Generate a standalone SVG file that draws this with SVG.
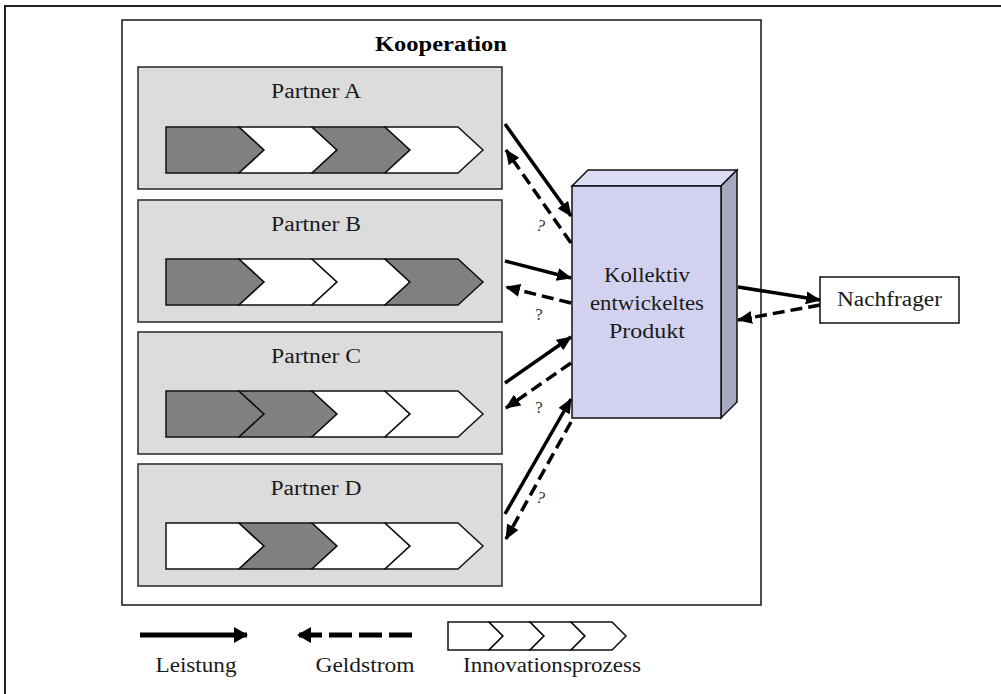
<svg xmlns="http://www.w3.org/2000/svg" width="1001" height="694" viewBox="0 0 1001 694">
  <style>
    .t { font-family: "Liberation Serif", "Times New Roman", serif; fill: #1a1a1a; text-anchor: middle; }
    .lbl { font-size: 20px; }
    .q { font-size: 17px; fill: #333; }
    .title { font-size: 20px; font-weight: bold; fill: #000; }
    .partner { fill: #dcdcdc; stroke: #333; stroke-width: 1.6; }
    .dk { fill: #808080; stroke: #111; stroke-width: 1.5; stroke-linejoin: miter; }
    .wt { fill: #ffffff; stroke: #111; stroke-width: 1.5; stroke-linejoin: miter; }
    .solid { fill: none; stroke: #000; stroke-width: 3.5; }
    .dash { fill: none; stroke: #000; stroke-width: 3.5; stroke-dasharray: 12 6; }
  </style>
  <defs>
    <marker id="ah" markerUnits="userSpaceOnUse" markerWidth="15" markerHeight="13" refX="14" refY="6.5" orient="auto">
      <path d="M0,0 L15,6.5 L0,13 Z" fill="#000"/>
    </marker>
    <marker id="ahL" markerUnits="userSpaceOnUse" markerWidth="14" markerHeight="16" refX="13" refY="8" orient="auto">
      <path d="M0,0 L14,8 L0,16 Z" fill="#000"/>
    </marker>
    <!-- process chevron pieces: first one flat at the left, the others notched -->
    <path id="c0" d="M0,0 H73 L98,23 L73,46 H0 Z"/>
    <path id="c1" d="M0,0 H73 L98,23 L73,46 H0 L25,23 Z"/>
    <path id="s0" d="M0,0 H41 L55,14 L41,28 H0 Z"/>
    <path id="s1" d="M0,0 H41 L55,14 L41,28 H0 L14,14 Z"/>
  </defs>

  <!-- page frame -->
  <path d="M5,694 V6 H1001" fill="none" stroke="#222" stroke-width="2"/>

  <!-- cooperation frame -->
  <g id="kooperation">
    <rect x="122" y="20" width="639" height="585" fill="#fff" stroke="#222" stroke-width="1.6"/>
    <text class="t title" x="441" y="51" textLength="132" lengthAdjust="spacingAndGlyphs">Kooperation</text>
  </g>

  <g id="partner-a">
    <rect class="partner" x="138" y="67" width="364" height="122"/>
    <text class="t lbl" x="316" y="98" textLength="90" lengthAdjust="spacingAndGlyphs">Partner A</text>
    <use href="#c0" class="dk" x="166" y="127"/>
    <use href="#c1" class="wt" x="239" y="127"/>
    <use href="#c1" class="dk" x="312" y="127"/>
    <use href="#c1" class="wt" x="385" y="127"/>
  </g>

  <g id="partner-b">
    <rect class="partner" x="138" y="200" width="364" height="122"/>
    <text class="t lbl" x="316" y="231" textLength="90" lengthAdjust="spacingAndGlyphs">Partner B</text>
    <use href="#c0" class="dk" x="166" y="259"/>
    <use href="#c1" class="wt" x="239" y="259"/>
    <use href="#c1" class="wt" x="312" y="259"/>
    <use href="#c1" class="dk" x="385" y="259"/>
  </g>

  <g id="partner-c">
    <rect class="partner" x="138" y="332" width="364" height="122"/>
    <text class="t lbl" x="316" y="363" textLength="90" lengthAdjust="spacingAndGlyphs">Partner C</text>
    <use href="#c0" class="dk" x="166" y="391"/>
    <use href="#c1" class="dk" x="239" y="391"/>
    <use href="#c1" class="wt" x="312" y="391"/>
    <use href="#c1" class="wt" x="385" y="391"/>
  </g>

  <g id="partner-d">
    <rect class="partner" x="138" y="464" width="364" height="122"/>
    <text class="t lbl" x="316" y="495" textLength="91" lengthAdjust="spacingAndGlyphs">Partner D</text>
    <use href="#c0" class="wt" x="166" y="523"/>
    <use href="#c1" class="dk" x="239" y="523"/>
    <use href="#c1" class="wt" x="312" y="523"/>
    <use href="#c1" class="wt" x="385" y="523"/>
  </g>

  <!-- jointly developed product, drawn as a block -->
  <g id="produkt">
    <polygon points="572,186 588,170 737,170 721,186" fill="#dcdcf4" stroke="#111" stroke-width="1.5"/>
    <polygon points="721,186 737,170 737,402 721,418" fill="#a8a8c0" stroke="#111" stroke-width="1.5"/>
    <rect x="572" y="186" width="149" height="232" fill="#d2d2f0" stroke="#111" stroke-width="1.5"/>
    <text class="t lbl" x="647" y="282" textLength="86" lengthAdjust="spacingAndGlyphs">Kollektiv</text>
    <text class="t lbl" x="647" y="310" textLength="114" lengthAdjust="spacingAndGlyphs">entwickeltes</text>
    <text class="t lbl" x="647" y="338" textLength="76" lengthAdjust="spacingAndGlyphs">Produkt</text>
  </g>

  <g id="nachfrager">
    <rect x="820" y="277" width="139" height="46" fill="#fff" stroke="#111" stroke-width="1.5"/>
    <text class="t lbl" x="889.5" y="306" textLength="105" lengthAdjust="spacingAndGlyphs">Nachfrager</text>
  </g>

  <g id="connectors">
    <path class="solid" d="M505,124 L571,216" marker-end="url(#ah)"/>
    <path class="dash" d="M571,243 L506,150" marker-end="url(#ah)"/>
    <path class="solid" d="M505,261 L571,278" marker-end="url(#ah)"/>
    <path class="dash" d="M571,303 L506,287" marker-end="url(#ah)"/>
    <path class="solid" d="M505,383 L571,337" marker-end="url(#ah)"/>
    <path class="dash" d="M571,363 L506,408" marker-end="url(#ah)"/>
    <path class="solid" d="M505,514 L571,399" marker-end="url(#ah)"/>
    <path class="dash" d="M571,422 L506,539" marker-end="url(#ah)"/>
    <path class="solid" d="M738,287 L820,300" marker-end="url(#ah)"/>
    <path class="dash" d="M820,305 L738,320" marker-end="url(#ah)"/>
    <text class="t q" transform="translate(539,231) rotate(20)">?</text>
    <text class="t q" x="539" y="320">?</text>
    <text class="t q" x="539" y="413">?</text>
    <text class="t q" transform="translate(539,503) rotate(20)">?</text>
  </g>

  <!-- legend -->
  <g id="legende">
    <path d="M140,635 L247,635" fill="none" stroke="#000" stroke-width="5" marker-end="url(#ahL)"/>
    <path d="M412,635 L298,635" fill="none" stroke="#000" stroke-width="5" stroke-dasharray="23 7" marker-end="url(#ahL)"/>
    <use href="#s0" class="wt" x="448" y="622"/>
    <use href="#s1" class="wt" x="489" y="622"/>
    <use href="#s1" class="wt" x="530" y="622"/>
    <use href="#s1" class="wt" x="571" y="622"/>
    <text class="t lbl" x="196" y="672" textLength="81" lengthAdjust="spacingAndGlyphs">Leistung</text>
    <text class="t lbl" x="365" y="672" textLength="99" lengthAdjust="spacingAndGlyphs">Geldstrom</text>
    <text class="t lbl" x="552" y="672" textLength="178" lengthAdjust="spacingAndGlyphs">Innovationsprozess</text>
  </g>
</svg>
